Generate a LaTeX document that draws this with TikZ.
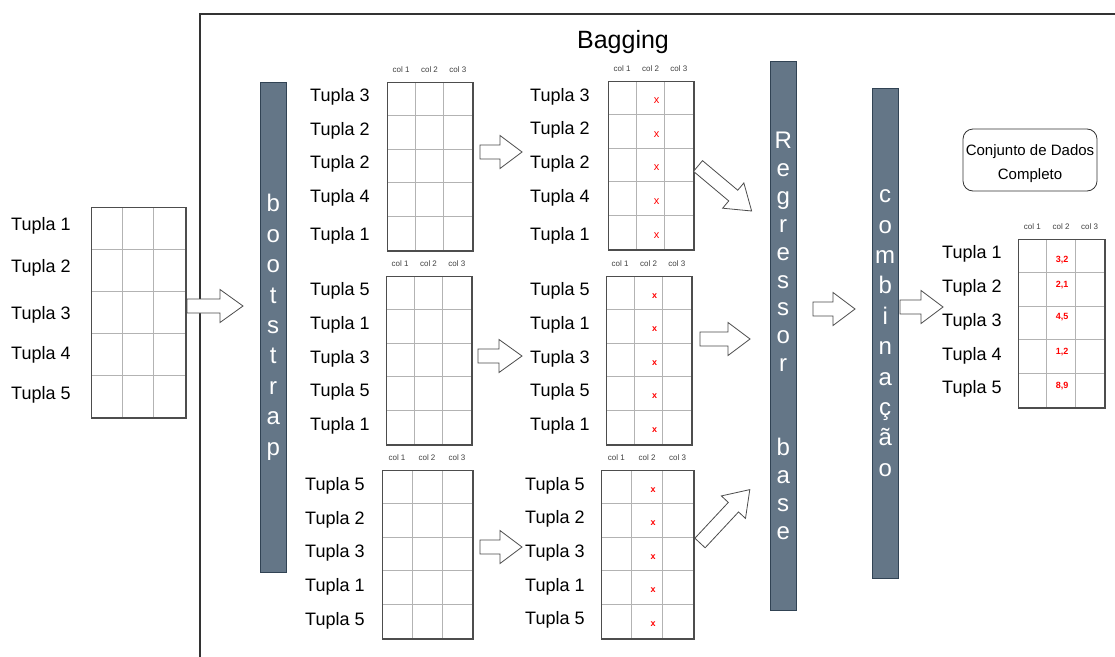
\documentclass[tikz,border=0pt]{standalone}
\usepackage{fontspec}
\setmainfont{Liberation Sans}
\usetikzlibrary{calc}

\definecolor{barfill}{HTML}{647687}
\definecolor{barline}{HTML}{314354}
\definecolor{gridc}{HTML}{B3B3B3}
\definecolor{edgec}{HTML}{4D4D4D}
\definecolor{vermelho}{HTML}{FF0000}

\tikzset{
  tbl/.style={draw=edgec, line width=1pt, anchor=north west, inner sep=0pt},
  gridline/.style={draw=gridc, line width=1pt},
  rowlabel/.style={font=\fontsize{18}{20}\selectfont, inner sep=0pt, anchor=west, yshift=-2pt},
  colhead/.style={font=\fontsize{8}{9}\selectfont, text=black!75, inner sep=0pt},
  redx/.style={font=\fontsize{11}{12}\selectfont, text=vermelho, inner sep=0pt},
  redxb/.style={font=\fontsize{9}{10}\selectfont\bfseries, text=vermelho, inner sep=0pt},
  valor/.style={font=\fontsize{9}{10}\selectfont\bfseries, text=vermelho, inner sep=0pt},
  blockarrow/.style={draw=black!70, fill=white, line width=0.8pt, line join=miter},
  bar/.style={draw=barline, fill=barfill, text=white, minimum width=26pt,
              inner sep=0pt, align=center, anchor=north west},
  frame/.style={draw=black!80, line width=1.2pt},
  caixa/.style={draw=black!80, line width=0.8pt, rounded corners=10pt,
                minimum width=134pt, minimum height=62pt, inner sep=0pt},
  caixatexto/.style={align=center, font=\fontsize{15}{24}\selectfont, inner sep=0pt},
}

% table of 5 rows x 3 columns: name, x, y (top left), width, height
\newcommand\tabela[5]{%
  \node[tbl, minimum width=#4pt, minimum height=#5pt] (#1) at (#2,#3) {};
  \foreach \i in {1,2} \draw[gridline] ({#2+\i*#4/3},#3) -- ++(0,#5);
  \foreach \j in {1,...,4} \draw[gridline] (#2,{#3+\j*#5/5}) -- ++(#4,0);
  \draw[draw=edgec, line width=1pt] (#1.north west) rectangle (#1.south east);
  \foreach \c in {1,2,3}
    \node[colhead] (#1-h\c) at ({#2+(\c-0.5)*#4/3},{#3-12.5}) {col \c};
}
% row labels: name prefix, x, list of y/text
\newcommand\rotulos[3]{%
  \foreach \yy/\txt [count=\kk] in {#3}
    \node[rowlabel] (#1-\kk) at (#2,\yy) {\txt};
}
% red marks in the second column: name, style, x, y (top), width, height
\newcommand\marcas[6]{%
  \foreach \r in {1,...,5}
    \node[#2] (#1-x\r) at ({#3+#5/2+6},{#4+(\r-0.5)*#6/5+3}) {x};
}
% hollow block arrow: x, y (tail centre), angle, length, head length
\newcommand\seta[5]{%
  \draw[blockarrow, shift={(#1,#2)}, rotate=#3]
    (0,-7) -- ({#4-#5},-7) -- ({#4-#5},-16.5) -- (#4,0) -- ({#4-#5},16.5)
    -- ({#4-#5},7) -- (0,7) -- cycle;
}

\begin{document}
\begin{tikzpicture}[x=1pt, y=-1pt]
\useasboundingbox[fill=white] (0,0) rectangle (1115,656);

% outer frame of the bagging stage
\coordinate (fb) at (200,660);
\coordinate (fc) at (200,14);
\coordinate (fr) at (1118,14);
\draw[frame] (fb) -- (fc) -- (fr);
\node[font=\fontsize{25}{30}\selectfont, inner sep=0pt] (titulo) at (623,42) {Bagging};

% original data set
\node[tbl, minimum width=94pt, minimum height=210pt] (orig) at (91,207) {};
\foreach \i in {1,2} \draw[gridline] ({91+\i*94/3},207) -- ++(0,210);
\foreach \j in {1,...,4} \draw[gridline] (91,{207+\j*42}) -- ++(94,0);
\draw[draw=edgec, line width=1pt] (orig.north west) rectangle (orig.south east);
\rotulos{lo}{11}{224/Tupla 1, 266/Tupla 2, 313/Tupla 3, 353/Tupla 4, 393/Tupla 5}

% bars
\node[bar, minimum height=490pt, font=\fontsize{24}{30.4}\selectfont] (boot) at (260,82)
  {b\\o\\o\\t\\s\\t\\r\\a\\p};
\node[bar, minimum height=549pt, font=\fontsize{24}{27.9}\selectfont] (regr) at (770,61)
  {R\\e\\g\\r\\e\\s\\s\\o\\r\\\mbox{}\\\mbox{}\\b\\a\\s\\e};
\node[bar, minimum height=490pt, font=\fontsize{24}{30.4}\selectfont] (comb) at (872,88)
  {c\\o\\m\\b\\i\\n\\a\\ç\\ã\\o};

% bootstrap samples
\tabela{ta}{387}{82}{85}{168}
\rotulos{la}{310}{95/Tupla 3, 129/Tupla 2, 162/Tupla 2, 196/Tupla 4, 234/Tupla 1}
\tabela{tb}{386}{276}{85}{168}
\rotulos{lb}{310}{289/Tupla 5, 323/Tupla 1, 357/Tupla 3, 390/Tupla 5, 424/Tupla 1}
\tabela{tc}{382}{470}{90}{168}
\rotulos{lc}{305}{484/Tupla 5, 518/Tupla 2, 551/Tupla 3, 585/Tupla 1, 619/Tupla 5}

% samples with the target column
\tabela{sa}{608}{81}{85}{168}
\rotulos{ma}{530}{95/Tupla 3, 128/Tupla 2, 162/Tupla 2, 196/Tupla 4, 234/Tupla 1}
\marcas{sa}{redx}{608}{81}{85}{168}
\tabela{sb}{606}{276}{85}{168}
\rotulos{mb}{530}{289/Tupla 5, 323/Tupla 1, 357/Tupla 3, 390/Tupla 5, 424/Tupla 1}
\marcas{sb}{redxb}{606}{276}{85}{168}
\tabela{sc}{601}{470}{92}{168}
\rotulos{mc}{525}{484/Tupla 5, 517/Tupla 2, 551/Tupla 3, 585/Tupla 1, 618/Tupla 5}
\marcas{sc}{redxb}{601}{470}{92}{168}

% combined result
\node[caixa] (conj) at (1030,160) {};
\node[caixatexto] (conjtxt) at (1030,164) {Conjunto de Dados\\Completo};
\tabela{res}{1018}{239}{86}{168}
\rotulos{lr}{942}{252/Tupla 1, 286/Tupla 2, 320/Tupla 3, 354/Tupla 4, 387/Tupla 5}
\node[valor] (v1) at (1062,260) {3,2};
\node[valor] (v2) at (1062,285) {2,1};
\node[valor] (v3) at (1062,317) {4,5};
\node[valor] (v4) at (1062,352) {1,2};
\node[valor] (v5) at (1062,386) {8,9};

% flow arrows
\seta{187}{306}{0}{56}{23}
\seta{480}{152}{0}{42}{22}
\seta{478}{356}{0}{44}{23}
\seta{480}{547}{0}{42}{22}
\seta{698}{166}{-40}{70}{24}
\seta{700}{339}{0}{50}{22}
\seta{700}{543}{47}{73}{24}
\seta{813}{309}{0}{42}{22}
\seta{900}{307}{0}{43}{22}
\end{tikzpicture}
\end{document}
